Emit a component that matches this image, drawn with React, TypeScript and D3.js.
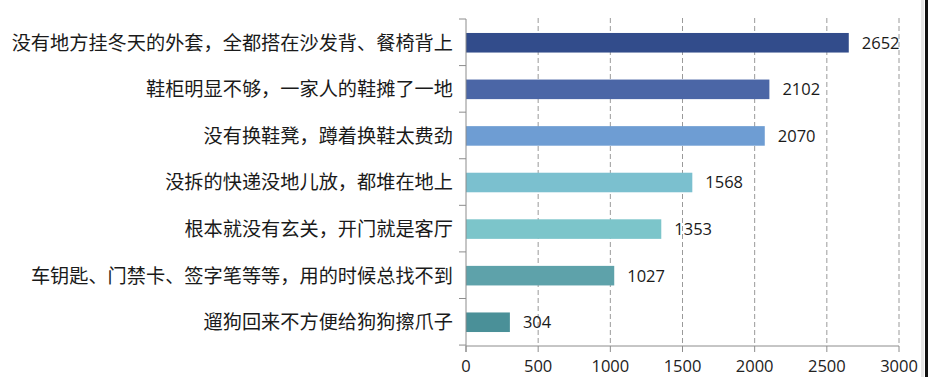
import React from "react";
import * as d3 from "d3";

const categories = [
  "没有地方挂冬天的外套，全都搭在沙发背、餐椅背上",
  "鞋柜明显不够，一家人的鞋摊了一地",
  "没有换鞋凳，蹲着换鞋太费劲",
  "没拆的快递没地儿放，都堆在地上",
  "根本就没有玄关，开门就是客厅",
  "车钥匙、门禁卡、签字笔等等，用的时候总找不到",
  "遛狗回来不方便给狗狗擦爪子",
];
const values = [2652, 2102, 2070, 1568, 1353, 1027, 304];
const colors = ["#324c8b", "#4b66a6", "#6e9dd3", "#7bc0cf", "#7cc5ca", "#5ea2aa", "#4a9098"];
const xTicks = [0, 500, 1000, 1500, 2000, 2500, 3000];

const W = 928;
const H = 377;

export default function App() {
  const x = d3.scaleLinear().domain([0, 3000]).range([466, 899]);
  const y = d3
    .scaleBand<string>()
    .domain(categories)
    .range([19, 346])
    .paddingInner(0.58)
    .paddingOuter(0.3);
  const step = y.step();
  const bounds = d3.range(categories.length + 1).map((i) => 19 + i * step);

  return (
    <svg
      width={W}
      height={H}
      style={{ position: "absolute", left: 0, top: 0, background: "#fff" }}
    >
      {/* right edge border */}
      <rect x={921} y={0} width={3} height={H} fill="#e6e6e6" />
      <rect x={925} y={0} width={3} height={H} fill="#111" />
      {/* gridlines */}
      {xTicks.slice(1).map((t) => (
        <line
          key={"g" + t}
          x1={x(t)}
          x2={x(t)}
          y1={18}
          y2={346}
          stroke="#9a9a9a"
          strokeWidth={1}
          strokeDasharray="5,3"
        />
      ))}
      {/* bars */}
      {categories.map((c, i) => (
        <rect
          key={c}
          x={x(0)}
          y={y(c)}
          width={x(values[i]) - x(0)}
          height={y.bandwidth()}
          fill={colors[i]}
        />
      ))}
      {/* y axis */}
      <line x1={x(0)} x2={x(0)} y1={19} y2={352} stroke="#8c8c8c" strokeWidth={1} />
      {bounds.map((b, i) => (
        <line key={"yt" + i} x1={x(0) - 7} x2={x(0)} y1={b} y2={b} stroke="#8c8c8c" />
      ))}
      {/* x axis */}
      <line x1={x(0)} x2={x(3000)} y1={346} y2={346} stroke="#8c8c8c" strokeWidth={1} />
      {xTicks.map((t) => (
        <line key={"xt" + t} x1={x(t)} x2={x(t)} y1={346} y2={352} stroke="#8c8c8c" />
      ))}
      {xTicks.map((t) => (
        <text
          key={"xl" + t}
          x={x(t)}
          y={372}
          textAnchor="middle"
          fontFamily="'Open Sans', 'Liberation Sans', sans-serif"
          fontSize={16.5}
          fill="#222"
        >
          {t}
        </text>
      ))}
      {/* category labels */}
      {categories.map((c) => (
        <text
          key={"cl" + c}
          x={453}
          y={(y(c) as number) + y.bandwidth() / 2}
          dy="0.36em"
          textAnchor="end"
          fontFamily="'Noto Sans CJK SC', sans-serif"
          fontSize={19.2}
          fill="#1a1a1a"
        >
          {c}
        </text>
      ))}
      {/* value labels */}
      {categories.map((c, i) => (
        <text
          key={"vl" + c}
          x={x(values[i]) + 13}
          y={(y(c) as number) + y.bandwidth() / 2}
          dy="0.36em"
          fontFamily="'Open Sans', 'Liberation Sans', sans-serif"
          fontSize={16.5}
          fill="#1a1a1a"
        >
          {values[i]}
        </text>
      ))}
    </svg>
  );
}
